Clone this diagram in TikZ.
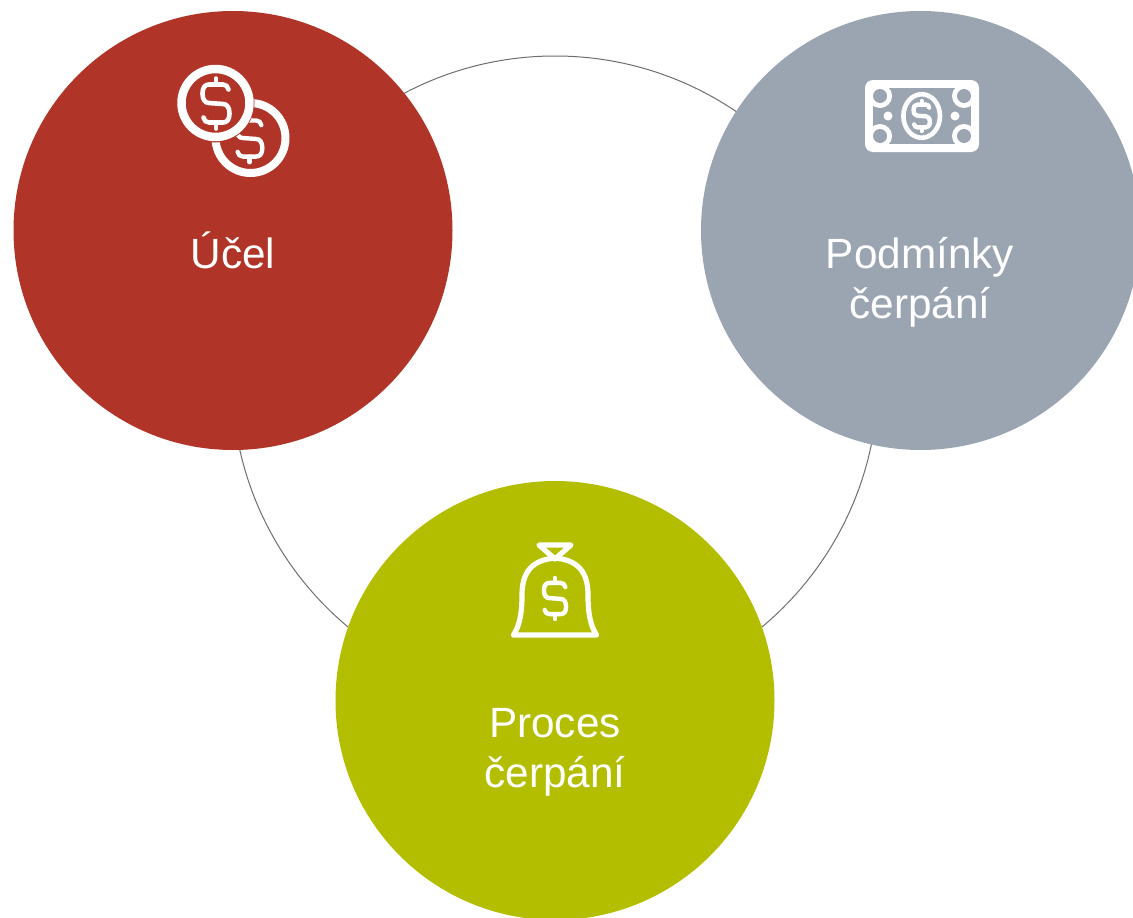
\documentclass[tikz,border=0pt]{standalone}
\usepackage{fontspec}
\setmainfont{Liberation Sans}
\definecolor{cred}{HTML}{B03427}
\definecolor{cgrey}{HTML}{9BA5B1}
\definecolor{cgreen}{HTML}{B4BE00}
\definecolor{cring}{HTML}{6E6E6E}
\newcommand{\dollarmark}[4]{%
  \begin{scope}[shift={(#1,#2)},scale=#3]
    \draw[icon,line width=#4]
      (12.5,-14) .. controls (12,-17) and (10,-19) .. (7,-19) -- (-7,-19)
      .. controls (-11,-19) and (-13.5,-16) .. (-13.5,-10)
      .. controls (-13.5,-4) and (-11,-0.5) .. (-7,-0.5) -- (7,0.5)
      .. controls (11,0.5) and (13.5,4) .. (13.5,10)
      .. controls (13.5,16) and (11,19) .. (7,19) -- (-7,19)
      .. controls (-10,19) and (-12,17) .. (-12.5,14);
    \draw[icon,line width=#4] (0,-25) -- (0,-19);
    \draw[icon,line width=#4] (0,19) -- (0,25);
  \end{scope}}
\tikzset{
  blob/.style={circle,minimum size=439pt,inner sep=0pt,line width=0pt},
  ringline/.style={circle,draw=cring,line width=1pt,minimum size=646pt,inner sep=0pt},
  label/.style={text=white,align=center,font=\fontsize{42.3}{50}\selectfont},
  icon/.style={draw=white,line cap=round,line join=round}
}
\begin{document}
\begin{tikzpicture}[x=1pt,y=-1pt]
\useasboundingbox (0,0) rectangle (1133,918);
\clip (0,0) rectangle (1133,918);
\node[ringline] (ring) at (555,379) {};
\node[blob,fill=cred] (ucel) at (233,230.5) {};
\node[blob,fill=cgrey] (podminky) at (920.5,230.5) {};
\node[blob,fill=cgreen] (proces) at (555,700.5) {};
% coins
\draw[icon,line width=8pt] (250.5,138) circle (35);
\dollarmark{249.5}{138.5}{0.95}{4.4pt}
\fill[cred] (215,103) circle (39.5);
\draw[icon,line width=8.5pt] (215.5,103) circle (34);
\dollarmark{216}{103.5}{1}{4.6pt}
% banknote
\fill[white,rounded corners=8pt] (865,80) rectangle (979,152);
\fill[cgrey] (873,88) rectangle (971,144);
\foreach \cx/\cy in {880/96,964/96,880/136,964/136}{
  \fill[white] (\cx,\cy) circle (12);
  \fill[cgrey] (\cx,\cy) circle (7);
}
\draw[icon,line width=4.6pt] (921.7,116) ellipse (18.3 and 21.8);
\dollarmark{921.7}{116}{0.6}{4.4pt}
\fill[white] (888,116) circle (4.5);
\fill[white] (955,116) circle (4.5);
% money bag
\draw[icon,line width=5.2pt]
  (513.5,635) -- (596.5,635)
  .. controls (590,625) and (588,612) .. (588,595)
  .. controls (588,572) and (578,560) .. (555,558)
  .. controls (532,560) and (522,572) .. (522,595)
  .. controls (522,612) and (520,625) .. (513.5,635);
\draw[icon,line width=5.2pt] (539,545) -- (571,545) -- (555,559) -- cycle;
\dollarmark{555}{598.5}{0.82}{4.4pt}
% labels
\node[label] (t1) at (233,250.5) {Účel};
\node[label] (t2) at (920,282) {Podmínky\\čerpání};
\node[label] (t3) at (555,752) {Proces\\čerpání};
\end{tikzpicture}
\end{document}
